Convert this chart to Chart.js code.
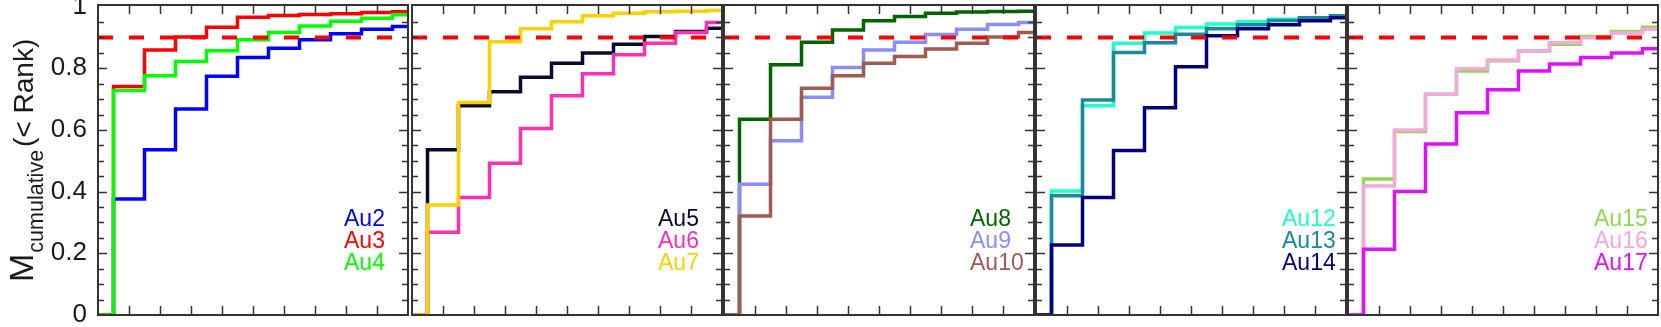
<!DOCTYPE html>
<html>
<head>
<meta charset="utf-8">
<script src="https://cdn.jsdelivr.net/npm/chart.js@4.4.1/dist/chart.umd.min.js"></script>
<style>
  html, body { margin: 0; padding: 0; background: #fff; }
  #wrap { position: relative; width: 1661px; height: 327px; overflow: hidden; }
  #wrap canvas { position: absolute; top: 0; }
</style>
</head>
<body>
<div id="wrap"></div>
<script>
// Rang 0..10 og kumulativ masse ved hver rang
const ranks = [0, 1, 2, 3, 4, 5, 6, 7, 8, 9, 10];
const yTicks = [0, 0.2, 0.4, 0.6, 0.8, 1];
const cutLevel = 0.9;

const au2  = [0, 0.376, 0.536, 0.668, 0.774, 0.835, 0.865, 0.892, 0.912, 0.926, 0.935];
const au3  = [0, 0.741, 0.859, 0.901, 0.933, 0.965, 0.971, 0.974, 0.977, 0.981, 0.983];
const au4  = [0, 0.728, 0.776, 0.822, 0.857, 0.892, 0.916, 0.937, 0.952, 0.962, 0.973];

const au5  = [0, 0.536, 0.678, 0.724, 0.771, 0.816, 0.849, 0.878, 0.903, 0.919, 0.930];
const au6  = [0, 0.268, 0.381, 0.492, 0.605, 0.711, 0.782, 0.844, 0.881, 0.916, 0.948];
const au7  = [0, 0.357, 0.689, 0.886, 0.928, 0.951, 0.970, 0.978, 0.983, 0.985, 0.987];

const au8  = [0, 0.635, 0.811, 0.884, 0.924, 0.954, 0.968, 0.978, 0.982, 0.984, 0.985];
const au9  = [0, 0.424, 0.565, 0.706, 0.802, 0.859, 0.884, 0.909, 0.926, 0.942, 0.948];
const au10 = [0, 0.321, 0.635, 0.735, 0.776, 0.816, 0.838, 0.862, 0.881, 0.901, 0.916];

const au12 = [0, 0.402, 0.678, 0.881, 0.914, 0.932, 0.943, 0.951, 0.959, 0.964, 0.970];
const au13 = [0, 0.387, 0.697, 0.851, 0.883, 0.910, 0.928, 0.941, 0.955, 0.964, 0.970];
const au14 = [0, 0.227, 0.381, 0.533, 0.672, 0.805, 0.905, 0.928, 0.941, 0.954, 0.964];

const au15 = [0, 0.441, 0.595, 0.716, 0.791, 0.824, 0.856, 0.878, 0.903, 0.919, 0.933];
const au16 = [0, 0.418, 0.600, 0.716, 0.798, 0.827, 0.856, 0.883, 0.899, 0.914, 0.926];
const au17 = [0, 0.213, 0.400, 0.554, 0.656, 0.730, 0.791, 0.814, 0.835, 0.849, 0.863];

const panelNames = [
  ['Au2', 'Au3', 'Au4'],
  ['Au5', 'Au6', 'Au7'],
  ['Au8', 'Au9', 'Au10'],
  ['Au12', 'Au13', 'Au14'],
  ['Au15', 'Au16', 'Au17']
];
const panelSeries = [
  [au2, au3, au4],
  [au5, au6, au7],
  [au8, au9, au10],
  [au12, au13, au14],
  [au15, au16, au17]
];

// farger
const farger = {
  Au2: '#0000ff', Au3: '#ff0000', Au4: '#00ff00',
  Au5: '#0a0a30', Au6: '#ff30b0', Au7: '#ffd000',
  Au8: '#006400', Au9: '#8c8cff', Au10: '#a05a50',
  Au12: '#20ffc8', Au13: '#1a8a98', Au14: '#00007f',
  Au15: '#90d850', Au16: '#f4a8dc', Au17: '#e010ff'
};

const plotLeft = [98, 412, 724, 1036, 1348];
const FONT = "'Liberation Sans', Arial, sans-serif";

// ramme, tikker og tekst
const rammePlugin = {
  id: 'ramme',
  afterDraw(chart) {
    const { ctx, chartArea: a, scales: { x, y } } = chart;
    ctx.save();
    ctx.strokeStyle = '#333';
    ctx.lineWidth = 1.5;
    ctx.beginPath();
    for (let v = 1; v < 10; v++) {
      const px = Math.round(x.getPixelForValue(v)) + 0.5;
      ctx.moveTo(px, a.bottom); ctx.lineTo(px, a.bottom - 9);
      ctx.moveTo(px, a.top); ctx.lineTo(px, a.top + 9);
    }
    for (let k = 1; k < 20; k++) {
      const py = Math.round(y.getPixelForValue(k * 0.05)) + 0.5;
      const len = k % 4 === 0 ? 9 : 6;
      ctx.moveTo(a.left, py); ctx.lineTo(a.left + len, py);
      ctx.moveTo(a.right, py); ctx.lineTo(a.right - len, py);
    }
    ctx.stroke();
    ctx.lineWidth = 2;
    ctx.strokeRect(a.left, a.top, a.right - a.left, a.bottom - a.top);

    // navnelapper
    ctx.font = '23px ' + FONT;
    ctx.textAlign = 'left';
    ctx.textBaseline = 'alphabetic';
    const navn = chart.config.options.navn;
    navn.forEach((n, k) => {
      ctx.fillStyle = farger[n];
      ctx.fillText(n, a.left + 246, a.top + 221 + k * 22);
    });
    ctx.restore();
  }
};

const aksetittelPlugin = {
  id: 'aksetittel',
  afterDraw(chart) {
    const ctx = chart.ctx;
    ctx.save();
    ctx.translate(33, 282);
    ctx.rotate(-Math.PI / 2);
    ctx.fillStyle = '#1a1a1a';
    ctx.textAlign = 'left';
    ctx.textBaseline = 'alphabetic';
    ctx.font = '34px ' + FONT;
    ctx.fillText('M', 0, 0);
    let pos = ctx.measureText('M').width + 1;
    ctx.font = '21.5px ' + FONT;
    ctx.fillText('cumulative', pos, 10);
    pos += ctx.measureText('cumulative').width + 3;
    ctx.font = '28px ' + FONT;
    ctx.fillText('(< Rank)', pos, 0);
    ctx.restore();
  }
};

function lagPanel(i) {
  const wrap = document.getElementById('wrap');
  const canvas = document.createElement('canvas');
  const left = i === 0 ? 0 : plotLeft[i] - 2;
  const width = i === 0 ? 410 : 314;
  canvas.width = width;
  canvas.height = 327;
  canvas.style.left = left + 'px';
  canvas.style.width = width + 'px';
  canvas.style.height = '327px';
  wrap.appendChild(canvas);

  const datasets = panelSeries[i].map((serie, k) => ({
    label: panelNames[i][k],
    data: ranks.map((r, j) => ({ x: r, y: serie[j] })),
    borderColor: farger[panelNames[i][k]],
    borderWidth: 3.5,
    stepped: 'middle',
    pointRadius: 0,
    fill: false,
    order: 10 - k
  }));
  datasets.push({
    label: 'cut',
    data: [{ x: 0, y: cutLevel }, { x: 10, y: cutLevel }],
    borderColor: '#ff0000',
    borderWidth: 4,
    borderDash: [15, 16],
    pointRadius: 0,
    fill: false,
    order: 0
  });

  const yAkse = {
    type: 'linear',
    min: 0,
    max: 1.005,
    display: i === 0,
    afterBuildTicks: s => { s.ticks = yTicks.map(v => ({ value: v })); },
    grid: { display: false, drawTicks: false },
    border: { display: false },
    ticks: {
      padding: 11,
      color: '#1a1a1a',
      font: { family: FONT, size: 26 },
      callback: v => String(v)
    }
  };
  if (i === 0) {
    yAkse.afterFit = s => { s.width = 98; s.paddingTop = 0; s.paddingBottom = 0; };
  }

  new Chart(canvas, {
    type: 'line',
    data: { datasets },
    options: {
      navn: panelNames[i],
      responsive: false,
      animation: false,
      devicePixelRatio: 1,
      layout: { padding: { left: i === 0 ? 0 : 2, right: 2, top: 5, bottom: 12 } },
      plugins: { legend: { display: false }, tooltip: { enabled: false } },
      scales: {
        x: { type: 'linear', min: 0, max: 10, display: false },
        y: yAkse
      }
    },
    plugins: i === 0 ? [rammePlugin, aksetittelPlugin] : [rammePlugin]
  });
}

for (let i = 0; i < 5; i++) lagPanel(i);
</script>
</body>
</html>
